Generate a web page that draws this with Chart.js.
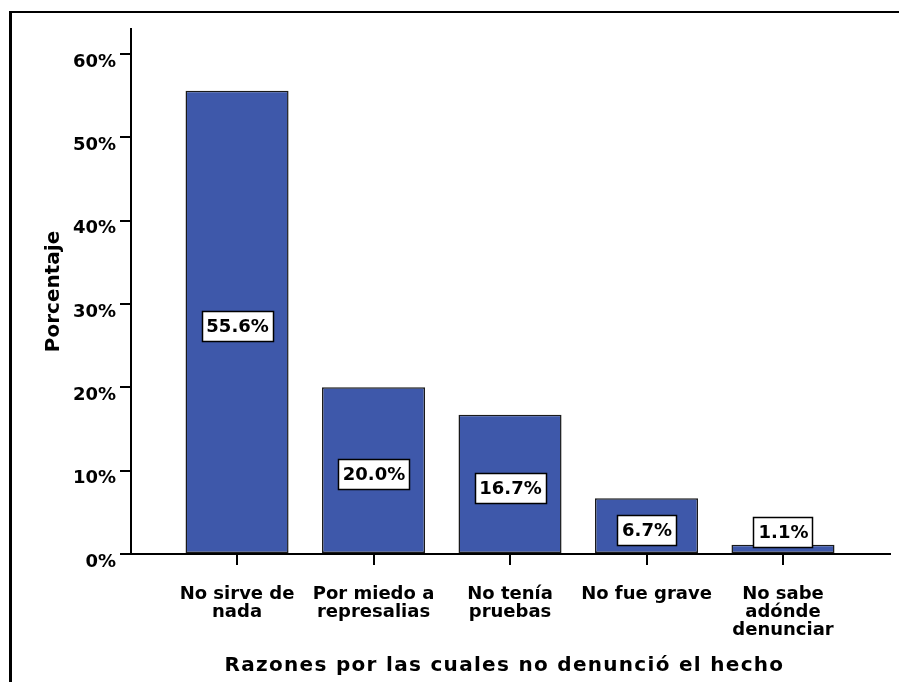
<!DOCTYPE html>
<html>
<head>
<meta charset="utf-8">
<script src="https://cdn.jsdelivr.net/npm/chart.js@4.4.0/dist/chart.umd.min.js"></script>
<style>
  html, body { margin: 0; padding: 0; background: #ffffff; }
  #wrap { width: 899px; height: 682px; position: relative; }
</style>
</head>
<body>
<div id="wrap"><canvas id="c" width="899" height="682"></canvas></div>
<script>
const categories = [
  ["No sirve de", "nada"],
  ["Por miedo a", "represalias"],
  ["No tenía", "pruebas"],
  ["No fue grave"],
  ["No sabe", "adónde", "denunciar"]
];
const percentages = [55.6, 20.0, 16.7, 6.7, 1.1];
const yTickValues = [0, 10, 20, 30, 40, 50, 60];
const xTitle = "Razones por las cuales no denunció el hecho";
const yTitle = "Porcentaje";

const FONT = "'DejaVu Sans', sans-serif";
const BAR_COLOR = '#3e58aa';

function spacedTitle(scale, spacing) {
  if (scale._spacedPatched) return;
  scale._spacedPatched = true;
  const orig = scale.drawTitle;
  scale.drawTitle = function () {
    const ctx = this.ctx;
    ctx.save();
    ctx.letterSpacing = spacing;
    ctx.translate(-6, 0);
    orig.apply(this, arguments);
    ctx.restore();
  };
}

const framePlugin = {
  id: 'frame',
  beforeDraw(chart) {
    const ctx = chart.ctx;
    ctx.save();
    ctx.fillStyle = '#ffffff';
    ctx.fillRect(0, 0, chart.width, chart.height);
    ctx.fillStyle = '#000000';
    ctx.fillRect(9, 11, 3, chart.height - 11);
    ctx.fillRect(9, 11, chart.width - 9, 2);
    ctx.restore();
  }
};

const labelPlugin = {
  id: 'valueBoxes',
  afterDatasetsDraw(chart) {
    const ctx = chart.ctx;
    const meta = chart.getDatasetMeta(0);
    ctx.save();
    ctx.font = "bold 18px " + FONT;
    ctx.textAlign = 'center';
    ctx.textBaseline = 'middle';
    meta.data.forEach((bar, i) => {
      const txt = percentages[i].toFixed(1) + '%';
      const base = bar.base;
      let cy = (bar.y + base) / 2 + 4;
      cy = Math.min(cy, base - 21);
      const w = Math.round(ctx.measureText(txt).width + 9);
      const h = 30;
      const lx = Math.round(bar.x - w / 2);
      const ty = Math.round(cy - h / 2);
      ctx.fillStyle = '#ffffff';
      ctx.fillRect(lx, ty, w, h);
      ctx.strokeStyle = '#000000';
      ctx.lineWidth = 1.5;
      ctx.strokeRect(lx + 0.5, ty + 0.5, w, h);
      ctx.fillStyle = '#000000';
      ctx.fillText(txt, bar.x + 0.5, cy + 1.5);
    });
    ctx.restore();
  }
};

new Chart(document.getElementById('c'), {
  type: 'bar',
  data: {
    datasets: [{
      data: percentages.map((v, i) => ({ x: i, y: v })),
      backgroundColor: BAR_COLOR,
      borderColor: '#1a1a1a',
      borderWidth: 1.5,
      borderSkipped: false,
      barPercentage: 0.755,
      categoryPercentage: 1.0
    }]
  },
  options: {
    responsive: false,
    animation: false,
    devicePixelRatio: 1,
    layout: { padding: { left: 0, right: 9, top: 29, bottom: 0 } },
    plugins: {
      legend: { display: false },
      tooltip: { enabled: false }
    },
    scales: {
      x: {
        type: 'linear',
        offset: false,
        min: -0.777,
        max: 4.784,
        afterBuildTicks(scale) { scale.ticks = categories.map((c, i) => ({ value: i })); },
        afterFit(scale) { scale.height = 128; },
        afterUpdate(scale) { spacedTitle(scale, '1.3px'); },
        border: { display: true, color: '#000000', width: 2 },
        grid: { offset: false, drawOnChartArea: false, drawTicks: true, tickLength: 11, color: '#000000', lineWidth: 2 },
        ticks: {
          autoSkip: false,
          maxRotation: 0,
          minRotation: 0,
          padding: 20,
          color: '#000000',
          font: { family: FONT, size: 18, weight: 'bold', lineHeight: 1.0 },
          callback: (v) => categories[v]
        },
        title: {
          display: true,
          text: xTitle,
          color: '#000000',
          font: { family: FONT, size: 20, weight: 'bold' },
          padding: { top: 0, bottom: 4 }
        }
      },
      y: {
        min: 0,
        max: 63,
        afterBuildTicks(scale) { scale.ticks = yTickValues.map(v => ({ value: v })); },
        afterFit(scale) { scale.width = 131; },
        border: { display: true, color: '#000000', width: 2 },
        grid: { drawOnChartArea: false, drawTicks: true, tickLength: 11, color: '#000000', lineWidth: 2 },
        ticks: {
          padding: 4,
          labelOffset: 8,
          color: '#000000',
          font: { family: FONT, size: 18, weight: 'bold' },
          callback: (v) => v + '%'
        },
        title: {
          display: true,
          text: yTitle,
          color: '#000000',
          font: { family: FONT, size: 20, weight: 'bold' },
          padding: { top: 42, bottom: 0 }
        }
      }
    }
  },
  plugins: [framePlugin, labelPlugin]
});
</script>
</body>
</html>
